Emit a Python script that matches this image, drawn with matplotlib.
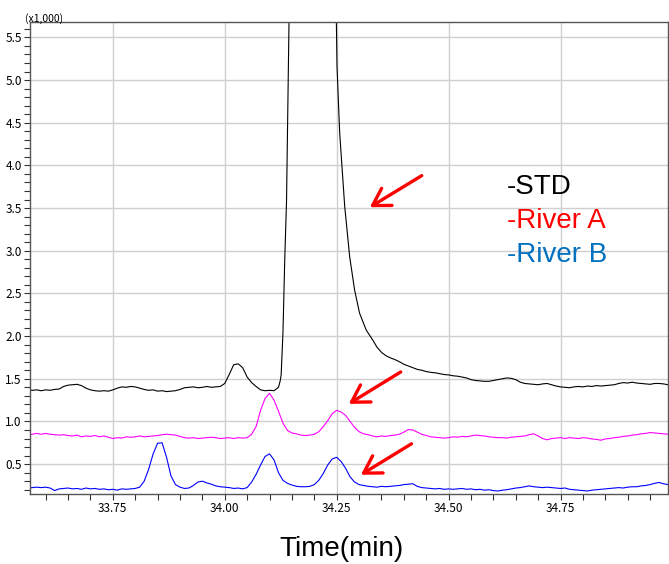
import numpy as np
import matplotlib
matplotlib.use("Agg")
import matplotlib.pyplot as plt
from matplotlib.ticker import MultipleLocator, FormatStrFormatter

plt.rcParams.update({'font.family': ['Liberation Sans', 'DejaVu Sans']})

# sampling grid (min), 0.01 step
time_min = np.round(np.arange(33.56, 34.995, 0.01), 2)

# River A (magenta), intensity x1000
river_a = [
    0.84, 0.85, 0.86, 0.85, 0.86, 0.85, 0.845, 0.84, 0.845, 0.835,
    0.83, 0.84, 0.82, 0.83, 0.825, 0.835, 0.82, 0.83, 0.815, 0.80,
    0.81, 0.805, 0.82, 0.815, 0.82, 0.83, 0.82, 0.825, 0.83, 0.835,
    0.845, 0.85, 0.845, 0.84, 0.825, 0.81, 0.805, 0.81, 0.80, 0.805,
    0.81, 0.815, 0.81, 0.80, 0.805, 0.81, 0.80, 0.81, 0.805, 0.81,
    0.85, 0.94, 1.13, 1.27, 1.33, 1.25, 1.12, 0.98, 0.895, 0.865,
    0.855, 0.84, 0.835, 0.84, 0.85, 0.88, 0.94, 1.01, 1.09, 1.13,
    1.11, 1.07, 1.00, 0.93, 0.88, 0.855, 0.845, 0.83, 0.82, 0.83,
    0.825, 0.835, 0.84, 0.85, 0.875, 0.905, 0.90, 0.875, 0.85, 0.835,
    0.82, 0.815, 0.81, 0.805, 0.81, 0.82, 0.815, 0.825, 0.82, 0.83,
    0.84, 0.835, 0.83, 0.82, 0.815, 0.81, 0.81, 0.805, 0.815, 0.82,
    0.825, 0.83, 0.845, 0.855, 0.83, 0.80, 0.785, 0.80, 0.805, 0.81,
    0.80, 0.81, 0.805, 0.80, 0.81, 0.805, 0.795, 0.79, 0.78, 0.795,
    0.80, 0.81, 0.815, 0.825, 0.83, 0.84, 0.845, 0.855, 0.86, 0.87,
    0.865, 0.86, 0.855, 0.85,
]

# River B (blue)
river_b = [
    0.22, 0.225, 0.23, 0.225, 0.23, 0.22, 0.19, 0.21, 0.215, 0.22,
    0.21, 0.215, 0.205, 0.22, 0.21, 0.215, 0.205, 0.21, 0.20, 0.205,
    0.195, 0.21, 0.205, 0.21, 0.215, 0.23, 0.30, 0.44, 0.62, 0.745,
    0.75, 0.58, 0.36, 0.26, 0.23, 0.215, 0.22, 0.25, 0.29, 0.30,
    0.28, 0.265, 0.245, 0.235, 0.23, 0.225, 0.215, 0.22, 0.21, 0.225,
    0.29, 0.38, 0.49, 0.59, 0.62, 0.55, 0.40, 0.31, 0.275, 0.255,
    0.24, 0.235, 0.235, 0.24, 0.26, 0.31, 0.39, 0.49, 0.56, 0.58,
    0.53, 0.45, 0.35, 0.29, 0.26, 0.25, 0.24, 0.235, 0.23, 0.24,
    0.235, 0.24, 0.245, 0.25, 0.26, 0.265, 0.27, 0.24, 0.225, 0.22,
    0.215, 0.21, 0.215, 0.205, 0.21, 0.205, 0.21, 0.215, 0.205, 0.21,
    0.20, 0.205, 0.195, 0.20, 0.19, 0.185, 0.195, 0.20, 0.21, 0.22,
    0.225, 0.235, 0.245, 0.235, 0.23, 0.225, 0.23, 0.225, 0.22, 0.215,
    0.22, 0.205, 0.20, 0.195, 0.19, 0.185, 0.195, 0.20, 0.205, 0.21,
    0.215, 0.22, 0.225, 0.22, 0.23, 0.235, 0.235, 0.245, 0.25, 0.26,
    0.275, 0.285, 0.27, 0.26,
]

# STD (black): grid part before the big peak (33.56-34.12)
std_before = [
    1.37, 1.365, 1.37, 1.36, 1.37, 1.365, 1.375, 1.38, 1.41, 1.425,
    1.43, 1.435, 1.42, 1.39, 1.37, 1.36, 1.355, 1.36, 1.355, 1.37,
    1.39, 1.405, 1.40, 1.41, 1.405, 1.39, 1.375, 1.365, 1.37, 1.355,
    1.36, 1.35, 1.355, 1.36, 1.375, 1.395, 1.40, 1.405, 1.395, 1.40,
    1.41, 1.40, 1.405, 1.41, 1.445, 1.55, 1.665, 1.675, 1.63, 1.52,
    1.455, 1.41, 1.37, 1.36, 1.365, 1.36, 1.40,
]
# dense points over the main peak (top is off scale)
std_peak_time = [34.124, 34.126, 34.130, 34.134, 34.138, 34.141, 34.1435, 34.15, 34.19,
                 34.24, 34.2493, 34.2507, 34.2567, 34.2679, 34.279, 34.290, 34.301,
                 34.316, 34.331]
std_peak = [1.48, 1.55, 2.04, 2.90, 3.59, 4.77, 5.68, 7.5, 10.0,
            7.5, 5.68, 5.16, 4.38, 3.52, 2.93, 2.54, 2.27,
            2.07, 1.95]
# grid part after the peak (34.34-34.99)
std_after = [
    1.87, 1.81, 1.77, 1.745, 1.725, 1.70, 1.67, 1.65, 1.63, 1.61,
    1.60, 1.585, 1.575, 1.57, 1.56, 1.55, 1.545, 1.535, 1.53, 1.52,
    1.51, 1.49, 1.48, 1.475, 1.47, 1.47, 1.48, 1.49, 1.50, 1.51,
    1.505, 1.49, 1.46, 1.445, 1.44, 1.435, 1.43, 1.44, 1.445, 1.43,
    1.415, 1.405, 1.40, 1.395, 1.405, 1.41, 1.405, 1.415, 1.41, 1.42,
    1.415, 1.42, 1.425, 1.43, 1.445, 1.455, 1.45, 1.46, 1.45, 1.445,
    1.44, 1.435, 1.445, 1.445, 1.44, 1.43,
]

# arrows: (tail time, tail value, tip time, tip value)
arrows = [
    (34.44, 3.88, 34.324, 3.51),
    (34.393, 1.58, 34.277, 1.206),
    (34.417, 0.738, 34.304, 0.375),
]

legend_labels = ['-STD', '-River A', '-River B']
legend_colors = ['#000000', '#ff0000', '#0070c0']

std_time = np.concatenate([time_min[time_min <= 34.12], std_peak_time, time_min[time_min >= 34.34]])
std_signal = np.concatenate([std_before, std_peak, std_after])

fig = plt.figure(figsize=(6.69, 5.64), dpi=100)
ax = fig.add_axes([30 / 669, 70 / 564, 638 / 669, 472 / 564])

ax.plot(std_time, std_signal, color='black', linewidth=0.8)
ax.plot(time_min, river_a, color='#ff00ff', linewidth=0.8)
ax.plot(time_min, river_b, color='#0000ff', linewidth=0.8)

ax.set_xlim(33.565, 34.99)
ax.set_ylim(0.15, 5.68)

ax.xaxis.set_major_locator(MultipleLocator(0.25))
ax.xaxis.set_minor_locator(MultipleLocator(0.05))
ax.yaxis.set_major_locator(MultipleLocator(0.5))
ax.yaxis.set_minor_locator(MultipleLocator(0.1))
ax.xaxis.set_major_formatter(FormatStrFormatter('%.2f'))
ax.yaxis.set_major_formatter(FormatStrFormatter('%.1f'))
ax.grid(True, which='major', color='#cfcfcf', linewidth=1.0)
ax.set_axisbelow(True)
ax.tick_params(which='both', direction='out', length=4, width=0.8, color='#333333',
               labelsize=8.5, pad=2)
for lab in ax.get_xticklabels() + ax.get_yticklabels():
    lab.set_family(['Noto Sans CJK JP', 'DejaVu Sans'])
for sp in ax.spines.values():
    sp.set_color('#555555')
    sp.set_linewidth(1.0)

fig.text(25 / 669, 1 - 24 / 564, '(x1,000)', fontsize=7.5, va='bottom', ha='left',
         family=['Noto Sans CJK JP', 'DejaVu Sans'])

for x0, y0, x1, y1 in arrows:
    ax.annotate('', xy=(x1, y1), xytext=(x0, y0),
                arrowprops=dict(arrowstyle='->,head_length=0.6,head_width=0.36',
                                color='#ff0000', lw=2.4, mutation_scale=20,
                                shrinkA=0, shrinkB=0))

for i, (lab, col) in enumerate(zip(legend_labels, legend_colors)):
    fig.text(507 / 669, 1 - (187 + 34 * i) / 564, lab, color=col, fontsize=20,
             ha='left', va='center')

fig.text(342 / 669, 1 - 549 / 564, 'Time(min)', fontsize=20, ha='center', va='center')

fig.savefig('out.png', dpi=100)
